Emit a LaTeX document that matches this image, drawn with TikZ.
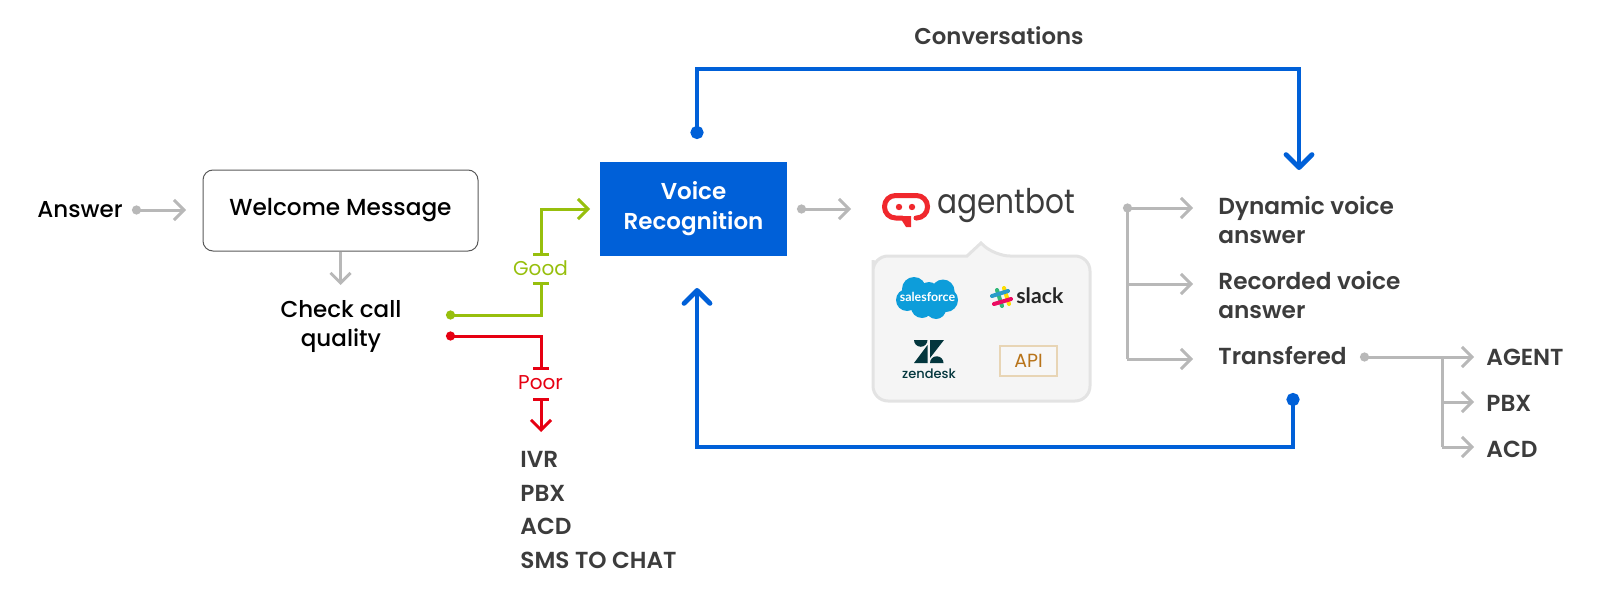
\documentclass[tikz,border=0pt]{standalone}
\usepackage{fontspec}
\setmainfont{Poppins Medium}
\newfontfamily\regf{Poppins}
\newfontfamily\semif{Poppins SemiBold}
\newfontfamily\latof{Lato}
\usetikzlibrary{arrows.meta}
\definecolor{bluec}{HTML}{0060D8}
\definecolor{greyc}{HTML}{B8B8B8}
\definecolor{greenc}{HTML}{97BF0D}
\definecolor{redc}{HTML}{E60012}
\definecolor{logored}{HTML}{F0282D}
\definecolor{darkc}{HTML}{3C3C3C}
\definecolor{sfc}{HTML}{0D9DDA}
\definecolor{zdc}{HTML}{03363D}
\definecolor{apiborder}{HTML}{E8D5B5}
\definecolor{apitext}{HTML}{B8741A}
\tikzset{
 x=.5pt,y=-.5pt,
 txt/.style={inner sep=0pt,font=\fontsize{11.5}{14.6}\selectfont,text=black,align=center},
 dtxt/.style={inner sep=0pt,font=\semif\fontsize{11.6}{14.7}\selectfont,text=darkc,align=left,anchor=west},
 flow/.style={line width=1.5pt,draw=greyc,-{Straight Barb[length=5pt,width=10pt]}},
 dotflow/.style={line width=1.5pt,draw=greyc,{Circle[length=4.5pt]}-{Straight Barb[length=5pt,width=10pt]}},
 bluef/.style={line width=2.4pt,draw=bluec,{Circle[length=6.5pt]}-{Straight Barb[length=6.5pt,width=13pt,round]}},
 colf/.style={line width=1.5pt},
}
\begin{document}
\begin{tikzpicture}
\useasboundingbox (0,0) rectangle (1600,610);
% left
\node[txt,anchor=west] (answer) at (37,210) {Answer};
\node[draw=black!65,line width=.5pt,rounded corners=5pt,minimum width=137.5pt,minimum height=40.5pt,inner sep=0pt,font=\fontsize{11.6}{14}\selectfont] (welcome) at (340.5,210.5) {Welcome Message};
\coordinate (a1) at (132,210); \coordinate (a2) at (186,210);
\draw[dotflow] (a1) -- (a2);
\coordinate (w1) at (welcome.south); \coordinate (w2) at (340.5,285);
\draw[flow] (w1) -- (w2);
\node[txt] (check) at (341,326.5) {Check call\\quality};
% green / red
\coordinate (g0) at (446,315); \coordinate (g1) at (541,281.5); \coordinate (g2) at (541,256); \coordinate (g3) at (590,209);
\draw[colf,draw=greenc,{Circle[length=4.5pt]}-{Bar[width=8pt]}] (g0) -| (g1);
\draw[colf,draw=greenc,{Bar[width=8pt]}-{Straight Barb[length=5pt,width=10pt]}] (g2) |- (g3);
\node[inner sep=0pt,font=\regf\fontsize{10}{11}\selectfont,text=greenc] (good) at (540.5,268) {Good};
\coordinate (r0) at (446,336); \coordinate (r1) at (541,369.5); \coordinate (r2) at (541,398); \coordinate (r3) at (541,432);
\draw[colf,draw=redc,{Circle[length=4.5pt]}-{Bar[width=8pt]}] (r0) -| (r1);
\draw[colf,draw=redc,{Bar[width=8pt]}-{Straight Barb[length=5pt,width=10pt]}] (r2) -- (r3);
\node[inner sep=0pt,font=\regf\fontsize{10}{11}\selectfont,text=redc] (poor) at (540.5,383) {Poor};
\node[dtxt] (ivr) at (520,459) {IVR};
\node[dtxt] (pbx1) at (520,493) {PBX};
\node[dtxt] (acd1) at (520,526.5) {ACD};
\node[dtxt] (sms) at (520,560) {SMS TO CHAT};
% voice
\node[fill=bluec,minimum width=93.5pt,minimum height=47pt,inner sep=0pt,text=white,align=center,font=\semif\fontsize{11.5}{15}\selectfont] (voice) at (693.5,209) {Voice\\Recognition};
\coordinate (v1) at (797,209); \coordinate (v2) at (851,209);
\draw[dotflow] (v1) -- (v2);
% agentbot logo
\draw[draw=logored,line width=2.5pt,line join=round,line cap=round,rounded corners=5.5pt] (902,218) -- (884.5,218) -- (884.5,195.5) -- (927.5,195.5) -- (927.5,218) -- (916,218);
\fill[logored] (899,216) -- (911,216) -- (911,227) -- (906,227) -- cycle;
\fill[logored] (899,207) circle[radius=3.2] (912,207) circle[radius=3.2];
\node[anchor=west,inner sep=0pt,text=darkc,font=\regf\fontsize{17}{20}\selectfont] (agentbot) at (937,206) {\scalebox{.87}[1]{agentbot}};
% panel
\draw[fill=black!4,draw=black!11,line width=1.5pt,rounded corners=7.5pt] (873,275) -- (873,401) -- (1090,401) -- (1090,256) -- (995,256) [sharp corners] -- (981,243) -- (967,256) [rounded corners=7.5pt] -- (873,256) -- cycle;
% salesforce
\fill[sfc] (927,298) ellipse[x radius=26,y radius=14];
\fill[sfc] (914,289) circle[radius=12] (929,291) circle[radius=9] (943,291) circle[radius=11.5] (907,300) circle[radius=11] (946,300) circle[radius=12] (922,307) circle[radius=11] (936,309) circle[radius=10];
\node[inner sep=0pt,text=white,font=\latof\bfseries\fontsize{6.2}{8}\selectfont] (sf) at (927.5,297) {salesforce};
% slack
\begin{scope}[line width=2pt,line cap=round]
\draw[draw=teal!70!green!80] (997,290) -- (1002,306);
\draw[draw=yellow!80!orange] (1004,288) -- (1009,304);
\draw[draw=cyan!60!teal] (992,296) -- (1008,291);
\draw[draw=magenta!60!red] (994,304) -- (1011,299);
\end{scope}
\node[anchor=west,inner sep=0pt,text=black!85,font=\latof\bfseries\fontsize{10.6}{14}\selectfont] (slack) at (1016,296) {slack};
% zendesk
\fill[zdc] (914,340) arc[start angle=180,end angle=0,radius=6.75] -- cycle;
\fill[zdc] (930,340) -- (944,340) -- (930,358) -- cycle;
\fill[zdc] (914,363) -- (927.5,345) -- (927.5,363) -- cycle;
\fill[zdc] (930,363) arc[start angle=180,end angle=360,radius=6.75] -- cycle;
\node[inner sep=0pt,text=zdc,font=\fontsize{6.5}{8}\selectfont] (zd) at (929,374) {zendesk};
% API
\node[draw=apiborder,line width=.6pt,fill=black!3,minimum width=28.5pt,minimum height=15pt,inner sep=0pt,text=apitext,font=\regf\fontsize{9.5}{11}\selectfont] (api) at (1028.5,361) {API};
% outputs
\coordinate (o0) at (1123,208); \coordinate (o1) at (1193,208); \coordinate (o2) at (1193,284); \coordinate (o3) at (1193,359);
\coordinate (oj) at (1127,284); \coordinate (oc) at (1127,359);
\draw[dotflow] (o0) -- (o1);
\draw[flow,-] (oj |- o1) -- (oc);
\draw[flow] (oj) -- (o2);
\draw[flow] (oc) -- (o3);
\node[dtxt] (dyn) at (1218,220) {Dynamic voice\\answer};
\node[dtxt] (rec) at (1218,295) {Recorded voice\\answer};
\node[dtxt] (trans) at (1218,356) {Transfered};
\coordinate (t0) at (1360,357); \coordinate (t1) at (1474,357); \coordinate (t2) at (1474,402); \coordinate (t3) at (1474,447);
\coordinate (tj) at (1442,402); \coordinate (tk) at (1442,447);
\draw[dotflow] (t0) -- (t1);
\draw[flow,-] (1442,357) -- (tk);
\draw[flow] (tj) -- (t2);
\draw[flow] (tk) -- (t3);
\node[dtxt] (agent) at (1486,357) {AGENT};
\node[dtxt] (pbx2) at (1486,403) {PBX};
\node[dtxt] (acd2) at (1486,449) {ACD};
% blue
\coordinate (c0) at (697,139); \coordinate (c1) at (1299,170); \coordinate (c2) at (1293,393); \coordinate (c3) at (697,288);
\draw[bluef] (c0) -- (697,69) -- (1299,69) -- (c1);
\draw[bluef] (c2) -- (1293,447) -- (697,447) -- (c3);
\node[inner sep=0pt,text=darkc,font=\semif\fontsize{11.4}{14}\selectfont] (conv) at (999,36) {Conversations};
\end{tikzpicture}
\end{document}
